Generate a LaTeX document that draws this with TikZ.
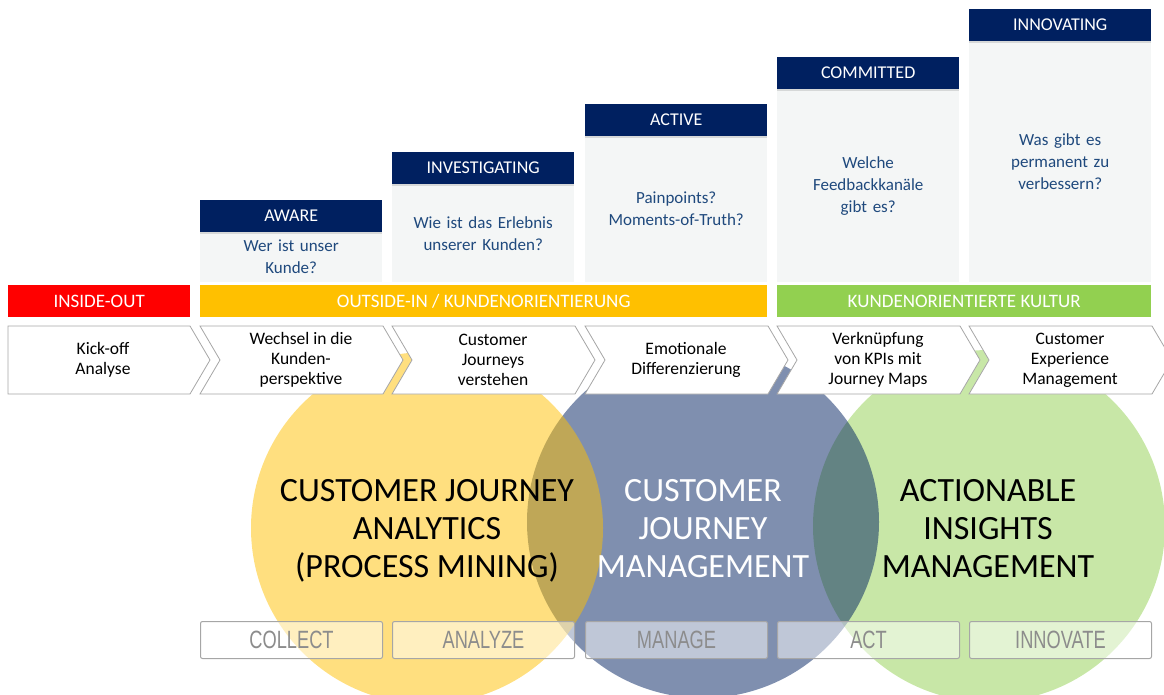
\documentclass[tikz,border=0pt]{standalone}
\usepackage{fontspec}
\setmainfont{Carlito}
\newfontfamily\schmal[FakeStretch=0.73]{Liberation Sans}
\usetikzlibrary{shadows}
\definecolor{navy}{RGB}{0,32,96}
\definecolor{blass}{RGB}{244,246,246}
\definecolor{frage}{RGB}{31,73,125}
\definecolor{rot}{RGB}{255,0,0}
\definecolor{orange}{RGB}{255,192,0}
\definecolor{gruen}{RGB}{146,208,80}
\definecolor{pfeilgrau}{RGB}{166,166,166}
\definecolor{textgrau}{RGB}{140,140,140}
\begin{document}
\begin{tikzpicture}[x=1pt,y=-1pt]
            \tikzstyle{kreis}=[circle,minimum size=352pt,inner sep=0pt,fill opacity=0.5]
            \tikzstyle{kreistext}=[align=center,font=\fontsize{34}{38}\selectfont]
            \tikzstyle{stufe}=[fill=navy,text=white,minimum width=182pt,minimum height=32pt,inner sep=0pt,anchor=north west,font=\fontsize{18}{20}\selectfont,drop shadow={shadow xshift=0pt,shadow yshift=-2pt,opacity=0.25}]
            \tikzstyle{frage}=[fill=blass,text=frage,text width=172pt,align=center,minimum width=182pt,inner sep=0pt,anchor=north west,font=\fontsize{17}{22}\selectfont]
            \tikzstyle{band}=[text=white,minimum height=32pt,inner sep=0pt,anchor=north west,font=\fontsize{19}{20}\selectfont]
            \tikzstyle{pfeil}=[draw=pfeilgrau,fill=white,line width=0.8pt]
            \tikzstyle{schritt}=[align=center,font=\fontsize{17.5}{20}\selectfont]
            \tikzstyle{phase}=[draw=pfeilgrau,line width=1pt,rounded corners=2pt,fill=white,fill opacity=0.5,text opacity=1,text=textgrau,minimum width=182pt,minimum height=37pt,inner sep=0pt,anchor=north west,font=\schmal\fontsize{25}{25}\selectfont]
            \useasboundingbox (0,0) rectangle (1164,695);
            % Kreise
            \node[kreis,fill=gruen] (aim) at (989,526) {};
            \node[kreis,fill=navy] (cjm) at (703,522) {};
            \node[kreis,fill=orange] (cja) at (427,528) {};
            \node[kreistext] (tcja) at (427,531) {CUSTOMER JOURNEY\\ANALYTICS\\(PROCESS MINING)};
            \node[kreistext,text=white] (tcjm) at (703,529) {CUSTOMER\\JOURNEY\\MANAGEMENT};
            \node[kreistext] (taim) at (988,529) {ACTIONABLE\\INSIGHTS\\MANAGEMENT};
            % Stufen
            \node[frage,minimum height=50pt] (f1) at (200,232) {Wer ist unser\\Kunde?};
            \node[frage,minimum height=98pt] (f2) at (392,184) {Wie ist das Erlebnis\\unserer Kunden?};
            \node[frage,minimum height=146pt] (f3) at (585,136) {Painpoints?\\Moments-of-Truth?};
            \node[frage,minimum height=193pt] (f4) at (777,89) {Welche\\Feedbackkanäle\\gibt es?};
            \node[frage,minimum height=241pt] (f5) at (969,41) {Was gibt es\\permanent zu\\verbessern?};
            \node[stufe] (aware) at (200,200) {AWARE};
            \node[stufe] (invest) at (392,152) {INVESTIGATING};
            \node[stufe] (active) at (585,104) {ACTIVE};
            \node[stufe] (commit) at (777,57) {COMMITTED};
            \node[stufe] (innov) at (969,9) {INNOVATING};
            % Baender
            \node[band,fill=rot,minimum width=182pt] (inout) at (8,285) {INSIDE-OUT};
            \node[band,fill=orange,minimum width=567pt] (outin) at (200,285) {OUTSIDE-IN / KUNDENORIENTIERUNG};
            \node[band,fill=gruen,minimum width=374pt] (kultur) at (777,285) {KUNDENORIENTIERTE KULTUR};
            % Pfeile
            \draw[pfeil] (8,326) -- (190,326) -- (210,360) -- (190,394) -- (8,394) -- cycle;
            \draw[pfeil] (200,326) -- (383,326) -- (403,360) -- (383,394) -- (200,394) -- (220,360) -- cycle;
            \draw[pfeil] (392,326) -- (575,326) -- (595,360) -- (575,394) -- (392,394) -- (412,360) -- cycle;
            \draw[pfeil] (585,326) -- (768,326) -- (788,360) -- (768,394) -- (585,394) -- (605,360) -- cycle;
            \draw[pfeil] (777,326) -- (960,326) -- (980,360) -- (960,394) -- (777,394) -- (797,360) -- cycle;
            \draw[pfeil] (969,326) -- (1152,326) -- (1172,360) -- (1152,394) -- (969,394) -- (989,360) -- cycle;
            \node[schritt] (s1) at (103,360) {Kick-off\\Analyse};
            \node[schritt] (s2) at (301,360) {Wechsel in die\\Kunden-\\perspektive};
            \node[schritt] (s3) at (493,360) {Customer\\Journeys\\verstehen};
            \node[schritt] (s4) at (686,360) {Emotionale\\Differenzierung};
            \node[schritt] (s5) at (878,360) {Verknüpfung\\von KPIs mit\\Journey Maps};
            \node[schritt] (s6) at (1070,360) {Customer\\Experience\\Management};
            % Phasen
            \node[phase] (collect) at (200,621) {COLLECT};
            \node[phase] (analyze) at (392,621) {ANALYZE};
            \node[phase] (manage) at (585,621) {MANAGE};
            \node[phase] (act) at (777,621) {ACT};
            \node[phase] (innovate) at (969,621) {INNOVATE};
        \end{tikzpicture}
\end{document}
